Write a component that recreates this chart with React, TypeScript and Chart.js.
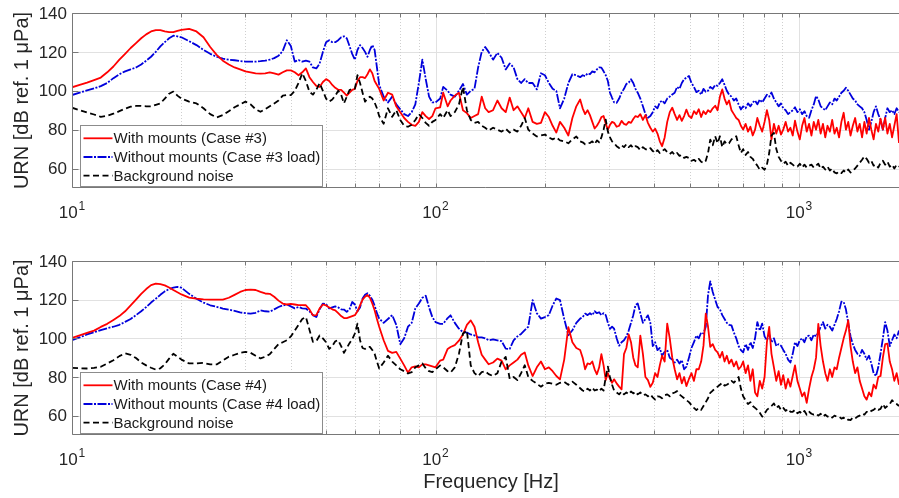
import { useEffect, useRef } from "react";
import { Chart, registerables } from "chart.js";

Chart.register(...registerables);

const FONT = '"Liberation Sans", Arial, Helvetica, sans-serif';

// Frequency grid shared by every spectrum (Hz)
const FREQ_HZ = [
  10, 10.5, 11, 11.5, 12, 12.5, 13, 13.5, 14, 14.5,
  15, 15.5, 16, 16.5, 17, 17.5, 18, 18.5, 19, 19.5,
  20, 21, 22, 23, 24, 25, 26, 27, 28, 29,
  30, 31, 32, 33, 34, 35, 36, 37, 38, 39,
  40, 41, 42, 43, 44, 45, 46, 47, 48, 49,
  50, 51, 52, 53, 54, 55, 56, 57, 58, 59,
  60, 61, 62, 63, 64, 65, 66, 67, 68, 69,
  70, 72, 74, 76, 78, 80, 82, 84, 86, 88,
  90, 92, 94, 96, 98,
  100, 103, 105, 108, 110, 113, 116, 119, 122, 125,
  128, 131, 134, 137, 140, 144, 148, 152, 156, 160,
  164, 168, 172, 176, 180, 185, 190, 195, 200, 205,
  210, 215, 220, 226, 232, 238, 244,
  250, 254, 258, 262, 266, 270, 274, 278, 282, 286,
  290, 294, 298, 302, 306, 310, 315, 320, 325, 330,
  335, 340, 345, 350, 355, 360, 366, 372, 378, 384,
  390, 396, 402, 408, 414, 420, 427, 434, 441, 448,
  455, 462, 469, 476, 483, 490, 498, 506, 514, 522,
  530, 538, 546, 554, 562, 570, 579, 588, 597, 606,
  615, 624, 633, 642, 652, 662, 672, 682, 692, 702,
  713, 724, 735, 746, 757, 768, 780, 792, 804, 816,
  828, 840, 853, 866, 879, 892, 905, 919, 933, 947,
  961, 975, 990, 1005, 1020, 1035, 1050, 1066, 1082, 1098,
  1114, 1130, 1147, 1164, 1181, 1198, 1216, 1234, 1252, 1270,
  1289, 1308, 1327, 1346, 1366, 1386, 1406, 1427, 1448, 1469,
  1491, 1513, 1535, 1558, 1581, 1604, 1628, 1652, 1676, 1701,
  1726, 1751, 1777, 1803, 1829, 1856, 1884, 1912,
];

// Case #3 (upper panel), URN in dB re 1 µPa
const CASE3_WITH = [
  101.8, 103, 104.2, 105.5, 106.8, 109.5, 112.5, 116, 119, 122,
  124.5, 127, 129, 130.5, 131.2, 131.2, 130.6, 130.2, 130.2, 130.8,
  131.3, 131.8, 130.5, 127.5, 122.5, 118.5, 115.5, 113.5, 112, 111,
  110, 109.5, 109, 108.8, 109, 109.5, 109, 108.3, 109.5, 110.5,
  110.5, 109.5, 108, 109.5, 111.5, 107, 104.5, 102.5, 102, 104.5,
  106, 105, 103, 101.5, 100.5, 100.5, 99, 97.5, 99, 100.5,
  101, 105, 107, 107, 106.5, 108.5, 111, 109, 105, 103,
  101, 95, 99, 98, 92, 89, 86, 84, 82.5, 82,
  84, 89, 87, 85.5, 87,
  91, 91.5, 99, 92, 95, 97.5, 99, 90, 88.5, 86,
  87, 88, 97, 91, 89, 90, 95, 91, 89, 96.5,
  90, 92, 89, 86, 91, 84, 83, 83.5, 89, 86.5,
  82, 78.5, 84, 81, 77, 86, 92,
  95.5, 91, 88, 90, 87.5, 84, 80.6, 82, 84, 86.5,
  87, 83, 80, 82.5, 84, 83.5, 81.5, 82, 84.5, 83,
  82.5, 84, 83.5, 85.5, 87, 86.5, 88, 85, 87.5, 83.5,
  81, 79, 80.5, 78, 74, 71.5, 76, 84, 89, 91.3,
  88, 85, 87.5, 84.5, 87, 90.3, 87, 86, 89.5, 88,
  90.5, 86.5, 89.5, 88, 90, 89, 91, 92.3, 90, 97,
  100.7, 96, 93, 95, 90, 88, 86, 85, 82, 80,
  83, 79, 81.5, 77, 80, 86, 82, 79, 84, 90,
  85, 75, 83, 78, 82, 77.5, 80, 84, 79, 81,
  77, 84.6, 79, 75, 82, 86, 79, 83, 77, 84,
  80, 85, 78, 83, 76, 82, 79, 85, 78, 81,
  76, 84, 88.7, 80, 84, 77, 82, 86, 79, 83,
  76, 84, 78, 86, 80, 75, 83, 79, 85.7, 80,
  86, 78, 83, 76, 82, 88, 73.2, 80,
];

const CASE3_WITHOUT = [
  97.8, 99, 100.2, 101.2, 102.4, 104, 106.5, 108.5, 110, 111,
  112, 113.5, 115.5, 117.5, 120, 122.8, 125, 127, 128.3, 128,
  127.5, 125.5, 123.5, 121, 119, 117.5, 116.5, 116, 115.7, 115.3,
  115, 115, 115, 115.2, 115.5, 116, 116.8, 118, 120.5, 126,
  123, 115, 115.8, 115, 115.5, 115, 112, 111.5, 114, 120,
  125, 126, 125, 125, 126, 127.5, 128, 127, 123, 119,
  116, 121, 123.5, 122, 120, 117.5, 121, 123.5, 121, 112,
  103, 97, 94, 97, 93, 90.5, 88, 87, 89, 93,
  104, 116, 106, 97, 94,
  94, 96, 102, 100, 98, 97, 100, 103.5, 98, 100,
  101, 112, 120, 122.5, 120, 116, 119.5, 117, 111, 114,
  112, 106, 104, 106, 104, 104, 100.7, 109, 108, 104,
  101, 99.9, 91, 96, 104, 108.5, 108,
  107, 108, 107.5, 109, 108.5, 110, 109.5, 111, 112, 111.9,
  110, 108, 105, 99, 96.4, 94, 93.8, 96, 99, 101,
  103.5, 104.2, 105.9, 104, 101, 99, 96, 92, 88, 86.1,
  87, 89, 92, 91, 94, 95, 93.5, 96, 97, 98.1,
  99, 102, 101, 104, 105.9, 106.8, 107.6, 104, 102, 99.3,
  100, 98, 101, 99.5, 100, 102, 101, 103, 102.5, 104,
  105.9, 103, 100, 98, 97, 95, 96, 93, 90.4, 92,
  91, 93.5, 92, 94, 95, 93, 95.5, 94, 96, 98,
  97, 99.1, 96, 94, 92, 93.5, 91, 90, 88, 89,
  90, 91.5, 89, 90.5, 88, 89.5, 87, 86.1, 90, 93,
  97.3, 95.6, 92, 91, 90, 92, 94, 93, 96, 95,
  97, 99, 100, 101.6, 100, 98, 96, 95, 93, 92,
  91, 89, 85, 80, 84, 89, 92, 88, 85, 80,
  86, 91, 89, 90, 88, 91, 89, 90,
];

const CASE3_BACKGROUND = [
  91.3, 90, 88.8, 87.8, 86.6, 87.2, 88.2, 89.5, 90.8, 91.8,
  92.2, 92.2, 92, 92, 92.8, 93.5, 96, 98.5, 99.6, 97.5,
  96, 94.4, 93.5, 91, 88, 86.3, 87.5, 89.5, 91.5, 93,
  94.4, 93, 90.5, 89.2, 90.5, 92, 93.5, 95, 97.5, 97.8,
  97.8, 100, 104, 109, 105, 99.5, 98, 100.5, 103.9, 100,
  96, 94.4, 95.5, 97.5, 100, 98, 93.5, 97, 100.4, 101,
  101, 108, 104, 99, 94.4, 96, 97, 96, 94, 91,
  87, 83, 91, 86.6, 90, 85, 82, 81.5, 82.5, 85,
  88, 86, 83.5, 82, 84,
  85, 88, 86, 90, 87, 89, 93, 102, 90, 85,
  83.5, 84, 82, 81, 79.5, 81, 80, 79, 80.5, 78.5,
  80, 79, 82, 86, 80, 78, 76.5, 77, 77.5, 76,
  75, 76, 74.5, 74, 73, 75, 76.5,
  74, 73.5, 72.5, 73, 73.2, 74, 72.5, 74.5, 73.5, 76,
  80, 85.2, 79, 76, 74, 73, 71.5, 70.6, 72, 71,
  72.5, 71, 72, 70.5, 71.5, 71, 69.5, 71, 70, 69.5,
  70.5, 69, 68, 69.5, 68, 68.9, 70, 68.5, 67.5, 68.5,
  67, 68, 66.5, 67, 65.5, 66, 65.4, 64, 64.5, 63.5,
  65, 63.5, 62.8, 64, 68, 74.9, 72, 76.6, 73, 76.6,
  71, 74, 72.5, 73, 75, 75.7, 76.6, 72, 68, 70,
  67, 68.5, 66, 65, 63, 61.5, 59.4, 60.5, 59.4, 62,
  68, 77, 78.3, 70, 66, 64, 62.5, 63.5, 61.5, 63,
  62, 61, 61, 62.5, 60.5, 62, 60.5, 61.5, 62, 60.5,
  61.5, 62.5, 60, 61, 59.5, 61, 59, 60, 58, 57.5,
  58.5, 57.7, 59, 58, 59.5, 58, 59, 60, 61.5, 63,
  64.5, 66.3, 65, 63, 64, 61.5, 62, 60.5, 63, 64,
  62, 63.5, 61, 62, 60, 62, 61, 61.5,
];

// Case #4 (lower panel), URN in dB re 1 µPa
const CASE4_WITH = [
  100.2, 101.5, 102.8, 104, 105.9, 107.5, 109.5, 111.5, 114, 117,
  120, 123, 125.5, 127.5, 128.3, 128, 127.4, 126.3, 125, 123.8,
  122.7, 121.1, 120.5, 120.2, 120, 120, 120, 121, 122.5, 124,
  125, 125.2, 125, 124, 123.2, 123, 121.5, 119.5, 118, 117.5,
  117.8, 117.5, 117.2, 117.2, 117.1, 115, 111.9, 112, 115.5, 117.5,
  117, 116, 115, 114.5, 113, 111.5, 110.5, 110.5, 111, 111.5,
  112, 114, 117, 120, 121.5, 122.4, 121, 118, 114.5, 110,
  106, 99, 93.5, 92.5, 93, 89.5, 86, 82.3, 85, 85.5,
  85, 86.5, 86.5, 86, 85.5,
  85, 88.5, 89, 94.5, 95.5, 96.5, 98.8, 102, 107, 109.3,
  106, 98, 91.5, 89, 86.6, 87.5, 89.5, 88.5, 84, 86,
  87.5, 89, 91.5, 92.7, 86, 80.5, 85, 88, 84, 85,
  83, 80.5, 78.8, 89, 105.8, 98, 95,
  94, 90, 84, 87, 86.6, 88, 84, 81.4, 85, 91.8,
  86, 78.4, 82, 79, 77, 78.8, 76.7, 75, 73.6, 91.8,
  95, 102, 98, 90, 86, 85, 101.4, 92, 80, 78.4,
  74.9, 77, 82, 80, 86, 91, 88, 107.6, 100, 90,
  84, 78.8, 82, 76.7, 80, 75.3, 79, 82, 78, 84,
  84, 88, 96.2, 112.8, 106, 95.6, 97, 94, 92.7, 90,
  93, 88, 91, 87, 89, 85.5, 88, 84, 85.3, 88,
  82, 86, 78, 84, 72, 70, 78, 74, 80, 98,
  105.9, 92, 85, 78, 83, 76, 81, 74, 79, 75,
  80.5, 86, 78, 74, 70, 72, 66.6, 74, 80, 84,
  90, 107.5, 96, 88, 82, 78, 84, 80, 85, 84,
  90, 95, 100, 104, 109.3, 96, 88, 82, 85, 78,
  74, 70, 68.3, 72, 70, 76, 74, 80, 80.5, 90,
  97, 97.3, 88, 84, 78, 82, 76, 78,
];

const CASE4_WITHOUT = [
  99, 100.5, 102, 103.2, 104.2, 105.2, 106, 107, 108.5, 110,
  112, 114, 116.2, 118.5, 120.5, 122.5, 124.3, 125.5, 126.2, 126.6,
  126.2, 123, 120.5, 118.5, 117.1, 116.3, 115.4, 114.8, 114.2, 113.4,
  113, 112.8, 113.2, 114.5, 114, 113.8, 115, 116.2, 117, 117.5,
  116.5, 115.5, 116.2, 115.5, 115.4, 114, 112, 111, 115, 118,
  117.7, 115.5, 116, 116.5, 116, 115, 114.9, 113.7, 115, 118.8,
  117.5, 114, 116, 120.6, 122.5, 123.3, 122, 120, 117, 113,
  110.2, 108, 110, 112, 107, 97, 100, 106, 108, 115.5,
  118, 121, 122, 116, 111,
  108.4, 107.5, 107.5, 110.5, 111.9, 108, 105, 103.2, 103, 102,
  101.5, 100.5, 100.5, 100, 99, 99.5, 99, 98.5, 94.7, 94.5,
  99, 101, 102.3, 104.2, 106, 119.8, 113, 110.2, 111, 112,
  117, 120.6, 119.8, 110, 101.6, 104.2, 108,
  110.2, 111, 112.8, 112, 113, 112, 114, 113, 113.5, 112,
  113, 112, 108, 104.9, 106, 105, 100, 96.2, 98, 99,
  101, 104, 108, 112, 117.2, 118, 113, 108, 110, 111.9,
  108, 96, 98, 93.9, 95, 91, 93, 94, 90, 89,
  87.5, 89, 87, 88.7, 84, 85.3, 90, 95, 98, 101.4,
  100, 103, 102.5, 106, 122.4, 129.4, 124, 120, 116.2, 115,
  112, 110, 108, 107, 106.7, 103, 100, 96, 93.9, 92.7,
  97, 94, 98, 95, 100, 108.4, 104, 107.6, 101, 99,
  102, 98, 100, 96, 97, 96.2, 94, 92, 89, 87.5,
  92, 98, 96, 99, 100, 98, 101, 101.4, 99, 102,
  101, 103, 106, 108.4, 105, 107, 106, 104, 107, 110,
  114, 119, 118.8, 115, 108, 101, 97, 94, 92, 90.9,
  94, 92, 89, 91, 87, 82, 80.5, 85, 92, 100,
  108.4, 104, 96, 99, 102, 100, 104, 103,
];

const CASE4_BACKGROUND = [
  84.7, 84.5, 84.4, 84.7, 85.3, 87, 88.7, 90.8, 92.2, 91.5,
  89.8, 87.5, 86, 84.8, 83.8, 84.5, 86.5, 89.5, 92, 90.5,
  89, 87, 87, 87.3, 86.5, 86.5, 88.5, 90.5, 91.5, 92.5,
  93, 92.5, 91, 89.6, 90.5, 91.8, 94.5, 97, 98, 99,
  101, 104, 107, 110, 111, 104.5, 98.2, 98.5, 101.5, 100,
  98, 94.5, 96, 98.5, 99, 96, 92.5, 95, 97.5, 99.5,
  102.5, 107.6, 99, 95, 94.5, 95.5, 95.6, 94, 92, 88,
  84.4, 87.5, 91, 88, 86, 84, 83, 81.8, 82.5, 85,
  86, 87, 84.5, 83, 82.5,
  84, 86, 85, 83, 82.3, 85, 92, 102.5, 104, 86,
  82, 80.5, 82.5, 83, 81.5, 80.5, 82, 88, 90.4, 79,
  80, 78.4, 82, 86.1, 80, 78, 76.5, 75, 76.5, 77,
  76.5, 76, 77, 77.5, 76, 77.6, 76,
  74.2, 73, 72.5, 74, 73, 74.5, 73, 73.5, 72.5, 74,
  73, 80, 85.3, 80, 76, 73, 72, 71, 72.5, 71,
  72, 71, 72.5, 71.5, 72.4, 71, 72, 70.5, 71, 70,
  71, 69.5, 68.3, 70, 69.8, 69, 70.5, 71, 70, 71.5,
  72, 72.7, 71, 70, 69, 68, 67, 65.5, 64, 62.9,
  64, 63, 65, 67, 69, 71.8, 73, 74, 75, 76,
  77, 75.5, 76, 76.7, 78, 77, 78.5, 80, 74, 70,
  68, 66, 67, 65, 64, 63, 61.5, 59.5, 61, 63,
  64, 65, 66.3, 64, 65, 63, 64, 62.5, 63.5, 62,
  62, 63, 61.2, 62, 61, 62.5, 60.5, 62, 61, 60.5,
  61, 60, 61, 59.5, 60.5, 59.5, 60, 59, 60, 59.5,
  59.5, 58.5, 59, 57.7, 58, 57.7, 59, 58.5, 59.5, 60,
  61, 60.5, 62, 61.5, 62.5, 63, 64, 63, 63.5, 66,
  64, 65, 66, 68, 66.6, 66, 65, 65.5,
];

const Y_TICKS = [60, 80, 100, 120, 140];
const X_DECADES = [10, 100, 1000];
const X_MINOR = [20, 30, 40, 50, 60, 70, 80, 90, 200, 300, 400, 500, 600, 700, 800, 900];

const LEGEND_CASE3 = ["With mounts (Case #3)", "Without mounts (Case #3 load)", "Background noise"];
const LEGEND_CASE4 = ["With mounts (Case #4)", "Without mounts (Case #4 load)", "Background noise"];
const Y_TITLE = "URN [dB ref. 1 μPa]";
const X_TITLE = "Frequency [Hz]";

const LINE_STYLES = [
  { color: "#ff0000", dash: [] as number[], order: 1 },
  { color: "#0000dc", dash: [9, 1.5, 2, 1.5], order: 2 },
  { color: "#000000", dash: [6, 3.5], order: 0 },
];
const LINE_WIDTH = 1.8;

function makeAxesPlugin(legend: string[], showXTitle: boolean) {
  return {
    id: "matlabAxes",
    beforeDatasetsDraw(chart: any) {
      const { ctx, chartArea: a, scales } = chart;
      const xs = scales.x;
      const ys = scales.y;
      ctx.save();
      ctx.lineWidth = 1;
      // horizontal grid
      ctx.strokeStyle = "#e1e1e1";
      for (const v of Y_TICKS) {
        if (v >= 140) continue;
        const y = Math.round(ys.getPixelForValue(v)) + 0.5;
        ctx.beginPath();
        ctx.moveTo(a.left, y);
        ctx.lineTo(a.right, y);
        ctx.stroke();
      }
      // decade grid
      for (const f of X_DECADES) {
        if (f <= 10) continue;
        const x = Math.round(xs.getPixelForValue(f)) + 0.5;
        ctx.beginPath();
        ctx.moveTo(x, a.top);
        ctx.lineTo(x, a.bottom);
        ctx.stroke();
      }
      // minor grid, dotted
      ctx.strokeStyle = "#cfcfcf";
      ctx.setLineDash([1, 2]);
      for (const f of X_MINOR) {
        const x = Math.round(xs.getPixelForValue(f)) + 0.5;
        ctx.beginPath();
        ctx.moveTo(x, a.top);
        ctx.lineTo(x, a.bottom);
        ctx.stroke();
      }
      ctx.restore();
    },
    afterDatasetsDraw(chart: any) {
      const { ctx, chartArea: a, scales } = chart;
      const xs = scales.x;
      const ys = scales.y;
      ctx.save();

      // axes box (left, top, bottom)
      ctx.strokeStyle = "#787878";
      ctx.lineWidth = 1;
      const L = Math.round(a.left) + 0.5;
      const T = Math.round(a.top) + 0.5;
      const B = Math.round(a.bottom) - 0.5;
      ctx.beginPath();
      ctx.moveTo(a.right, T);
      ctx.lineTo(L, T);
      ctx.lineTo(L, B);
      ctx.lineTo(a.right, B);
      ctx.stroke();

      // inward ticks
      const tick = 4;
      for (const f of [...X_DECADES, ...X_MINOR]) {
        const x = Math.round(xs.getPixelForValue(f)) + 0.5;
        if (x > a.right) continue;
        ctx.beginPath();
        ctx.moveTo(x, B);
        ctx.lineTo(x, B - tick);
        ctx.moveTo(x, T);
        ctx.lineTo(x, T + tick);
        ctx.stroke();
      }
      for (const v of Y_TICKS) {
        const y = Math.round(ys.getPixelForValue(v)) + 0.5;
        ctx.beginPath();
        ctx.moveTo(L, y);
        ctx.lineTo(L + 6, y);
        ctx.stroke();
      }

      // y tick labels
      ctx.fillStyle = "#262626";
      ctx.font = `17px ${FONT}`;
      ctx.textAlign = "right";
      ctx.textBaseline = "middle";
      for (const v of Y_TICKS) {
        ctx.fillText(String(v), a.left - 5, ys.getPixelForValue(v) + 1);
      }

      // x tick labels as 10^n
      ctx.textAlign = "left";
      ctx.textBaseline = "alphabetic";
      for (const f of X_DECADES) {
        const exp = String(Math.round(Math.log10(f)));
        ctx.font = `17px ${FONT}`;
        const wBase = ctx.measureText("10").width;
        ctx.font = `12px ${FONT}`;
        const wExp = ctx.measureText(exp).width;
        const cx = xs.getPixelForValue(f);
        const x0 = cx - (wBase + wExp + 1) / 2;
        const baseY = a.bottom + 29.5;
        ctx.font = `17px ${FONT}`;
        ctx.fillText("10", x0, baseY);
        ctx.font = `12px ${FONT}`;
        ctx.fillText(exp, x0 + wBase + 1, baseY - 8);
      }

      // y axis title
      ctx.save();
      ctx.translate(22, (a.top + a.bottom) / 2);
      ctx.rotate(-Math.PI / 2);
      ctx.font = `20px ${FONT}`;
      ctx.textAlign = "center";
      ctx.textBaseline = "middle";
      ctx.fillText(Y_TITLE, 0, 0);
      ctx.restore();

      // x axis title
      if (showXTitle) {
        ctx.font = `20px ${FONT}`;
        ctx.textAlign = "center";
        ctx.textBaseline = "alphabetic";
        ctx.fillText(X_TITLE, 491, a.bottom + 53);
      }

      // legend
      const bw = 242;
      const bh = 61;
      const bx = Math.round(a.left + 8) + 0.5;
      const by = Math.round(a.bottom - 2 - bh) + 0.5;
      ctx.fillStyle = "#ffffff";
      ctx.fillRect(bx, by, bw, bh);
      ctx.strokeStyle = "#8c8c8c";
      ctx.lineWidth = 1;
      ctx.strokeRect(bx, by, bw, bh);
      ctx.font = `15px ${FONT}`;
      ctx.textAlign = "left";
      ctx.textBaseline = "middle";
      legend.forEach((text, i) => {
        const y = by + 12.8 + i * 18.7;
        const st = LINE_STYLES[i];
        ctx.strokeStyle = st.color;
        ctx.lineWidth = LINE_WIDTH;
        ctx.setLineDash(st.dash);
        ctx.beginPath();
        ctx.moveTo(bx + 3, y);
        ctx.lineTo(bx + 32, y);
        ctx.stroke();
        ctx.setLineDash([]);
        ctx.fillStyle = "#1a1a1a";
        ctx.fillText(text, bx + 33, y + 1);
      });

      ctx.restore();
    },
  };
}

type PanelProps = {
  height: number;
  padTop: number;
  padBottom: number;
  series: number[][];
  legend: string[];
  showXTitle: boolean;
};

function Panel({ height, padTop, padBottom, series, legend, showXTitle }: PanelProps) {
  const ref = useRef<HTMLCanvasElement | null>(null);

  useEffect(() => {
    const canvas = ref.current;
    if (!canvas) return;
    const datasets = series.map((vals, i) => ({
      label: legend[i],
      data: FREQ_HZ.map((f, k) => ({ x: f, y: vals[k] })),
      borderColor: LINE_STYLES[i].color,
      borderWidth: LINE_WIDTH,
      borderDash: LINE_STYLES[i].dash,
      borderJoinStyle: "round" as const,
      pointRadius: 0,
      tension: 0,
      fill: false,
      order: LINE_STYLES[i].order,
    }));
    const chart = new Chart(canvas, {
      type: "line",
      data: { datasets },
      options: {
        animation: false,
        responsive: false,
        events: [],
        layout: { padding: { left: 72, right: 0, top: padTop, bottom: padBottom } },
        scales: {
          x: { type: "logarithmic", min: 10, max: 1884, display: false },
          y: { type: "linear", min: 50, max: 140, display: false },
        },
        plugins: {
          legend: { display: false },
          tooltip: { enabled: false },
          title: { display: false },
        },
      },
      plugins: [makeAxesPlugin(legend, showXTitle)],
    } as any);
    return () => chart.destroy();
  }, [series, legend, padTop, padBottom, showXTitle]);

  return <canvas ref={ref} width={899} height={height} style={{ display: "block" }} />;
}

const TOP_SERIES = [CASE3_WITH, CASE3_WITHOUT, CASE3_BACKGROUND];
const BOTTOM_SERIES = [CASE4_WITH, CASE4_WITHOUT, CASE4_BACKGROUND];

export default function App() {
  useEffect(() => {
    document.body.style.margin = "0";
    document.body.style.background = "#ffffff";
  }, []);
  return (
    <div style={{ width: 899, height: 498, background: "#ffffff", overflow: "hidden" }}>
      <Panel height={240} padTop={13} padBottom={52} series={TOP_SERIES} legend={LEGEND_CASE3} showXTitle={false} />
      <Panel height={258} padTop={21} padBottom={63} series={BOTTOM_SERIES} legend={LEGEND_CASE4} showXTitle={true} />
    </div>
  );
}
